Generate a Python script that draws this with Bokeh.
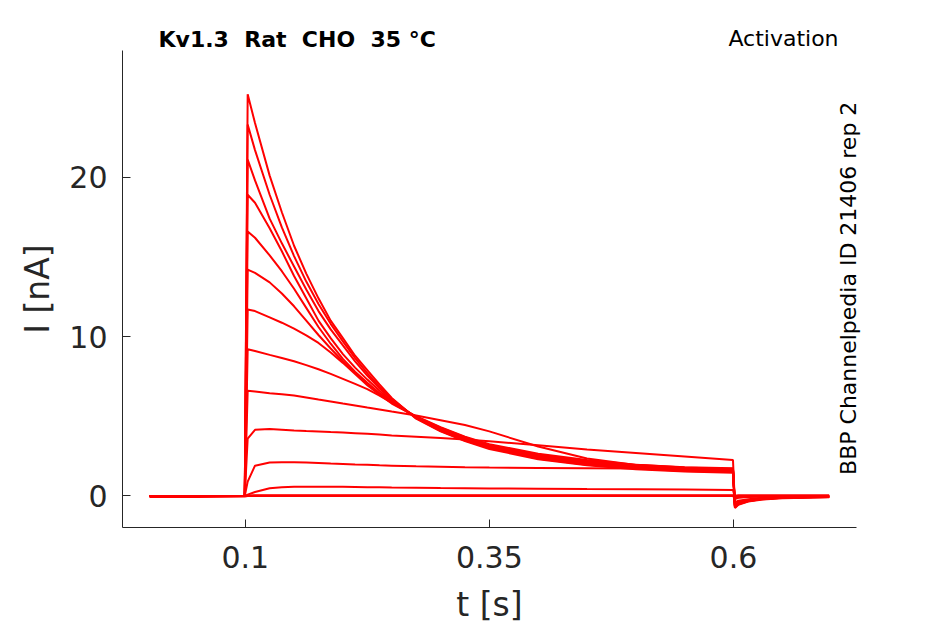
from math import pi
from bokeh.plotting import figure
from bokeh.models import Range1d, FixedTicker, Label
from bokeh.embed import file_html
from bokeh.resources import INLINE

# ---- data ----
t = [0.002, 0.05, 0.0995, 0.1025, 0.11, 0.125, 0.1375, 0.15, 0.1625, 0.175,
     0.1875, 0.2, 0.2125, 0.225, 0.2375, 0.25, 0.275, 0.3, 0.325, 0.35, 0.4,
     0.45, 0.5, 0.55, 0.5995, 0.6015, 0.605, 0.615, 0.63, 0.65, 0.698]

trace_01 = [0, 0, 0, 25.2, 23.4, 20.1, 17.8, 15.7, 13.95, 12.4, 11.0, 9.9, 8.8, 7.9, 7.0, 6.15, 4.85, 4.05, 3.45, 2.95, 2.3, 1.92, 1.68, 1.53, 1.45, -0.75, -0.55, -0.35, -0.22, -0.14, -0.08]
trace_02 = [0, 0, 0, 23.3, 21.7, 18.9, 16.85, 15.05, 13.45, 12.05, 10.8, 9.7, 8.65, 7.7, 6.85, 6.1, 4.88, 4.08, 3.48, 3.0, 2.35, 1.96, 1.72, 1.57, 1.5, -0.72, -0.52, -0.33, -0.2, -0.12, -0.07]
trace_03 = [0, 0, 0, 21.1, 19.8, 17.4, 15.85, 14.4, 12.95, 11.6, 10.45, 9.45, 8.45, 7.55, 6.75, 6.05, 4.9, 4.12, 3.52, 3.04, 2.4, 2.0, 1.76, 1.61, 1.54, -0.7, -0.5, -0.32, -0.19, -0.11, -0.06]
trace_04 = [0, 0, 0, 18.9, 18.4, 16.8, 15.35, 13.8, 12.4, 11.0, 9.9, 8.9, 8.05, 7.3, 6.6, 5.95, 4.92, 4.16, 3.56, 3.08, 2.45, 2.05, 1.8, 1.65, 1.58, -0.68, -0.48, -0.3, -0.18, -0.1, -0.05]
trace_05 = [0, 0, 0, 16.6, 16.2, 15.1, 14.1, 13.0, 11.8, 10.6, 9.55, 8.6, 7.8, 7.1, 6.45, 5.9, 4.95, 4.2, 3.6, 3.12, 2.5, 2.1, 1.84, 1.69, 1.62, -0.65, -0.46, -0.29, -0.17, -0.1, -0.05]
trace_06 = [0, 0, 0, 14.2, 14.0, 13.4, 12.7, 11.9, 11.0, 10.1, 9.25, 8.45, 7.72, 7.05, 6.42, 5.85, 4.97, 4.24, 3.64, 3.16, 2.55, 2.15, 1.88, 1.72, 1.65, -0.62, -0.44, -0.28, -0.16, -0.09, -0.04]
trace_07 = [0, 0, 0, 11.7, 11.6, 11.2, 10.87, 10.5, 10.08, 9.6, 9.0, 8.35, 7.65, 6.95, 6.35, 5.8, 4.98, 4.28, 3.68, 3.2, 2.6, 2.2, 1.92, 1.76, 1.7, -0.6, -0.42, -0.27, -0.15, -0.09, -0.04]
trace_08 = [0, 0, 0, 9.2, 9.1, 8.85, 8.66, 8.45, 8.21, 7.95, 7.66, 7.35, 7.03, 6.7, 6.3, 5.85, 5.0, 4.32, 3.72, 3.25, 2.65, 2.25, 1.96, 1.8, 1.74, -0.58, -0.4, -0.26, -0.15, -0.08, -0.04]
trace_09 = [0, 0, 0, 6.6, 6.55, 6.45, 6.38, 6.3, 6.18, 6.05, 5.93, 5.8, 5.68, 5.55, 5.43, 5.3, 5.05, 4.75, 4.45, 4.05, 3.1, 2.35, 1.95, 1.78, 1.68, -0.55, -0.38, -0.25, -0.14, -0.08, -0.04]
trace_10 = [0, 0, 0, 3.6, 4.15, 4.2, 4.15, 4.1, 4.07, 4.05, 4.01, 3.98, 3.94, 3.9, 3.85, 3.8, 3.72, 3.63, 3.54, 3.43, 3.18, 2.92, 2.7, 2.48, 2.26, -0.6, -0.45, -0.3, -0.18, -0.1, -0.05]
trace_11 = [0, 0, 0, 0.9, 1.9, 2.1, 2.12, 2.12, 2.1, 2.07, 2.03, 2.0, 1.97, 1.95, 1.92, 1.9, 1.86, 1.83, 1.8, 1.78, 1.76, 1.74, 1.72, 1.7, 1.68, -0.4, -0.3, -0.2, -0.12, -0.07, -0.03]
trace_12 = [0, 0, 0, 0.08, 0.25, 0.48, 0.54, 0.57, 0.58, 0.58, 0.58, 0.57, 0.56, 0.55, 0.54, 0.53, 0.52, 0.5, 0.49, 0.47, 0.45, 0.43, 0.42, 0.4, 0.38, -0.1, -0.08, -0.05, -0.03, -0.02, 0.0]
trace_13 = [-0.03, -0.03, 0, 0.03, 0.05, 0.05, 0.05, 0.05, 0.05, 0.05, 0.05, 0.05, 0.05, 0.05, 0.05, 0.05, 0.05, 0.05, 0.05, 0.05, 0.05, 0.05, 0.05, 0.05, 0.05, 0.02, 0.04, 0.05, 0.05, 0.05, 0.05]
trace_14 = [0, 0, 0, 0, 0, 0, 0, 0, 0, 0, 0, 0, 0, 0, 0, 0, 0, 0, 0, 0, 0, 0, 0, 0, 0, -0.05, -0.03, -0.02, -0.01, 0, 0]
trace_15 = [-0.06, -0.06, -0.03, 0, 0.01, 0.01, 0.01, 0.01, 0.01, 0.01, 0.01, 0.01, 0.01, 0.01, 0.01, 0.01, 0.01, 0.01, 0.01, 0.01, 0.01, 0.01, 0.01, 0.01, 0.01, -0.2, -0.12, -0.06, -0.03, -0.02, -0.01]

traces = [trace_01, trace_02, trace_03, trace_04, trace_05, trace_06, trace_07,
          trace_08, trace_09, trace_10, trace_11, trace_12, trace_13, trace_14, trace_15]

x_ticks = [0.1, 0.35, 0.6]
x_tick_labels = ["0.1", "0.35", "0.6"]
y_ticks = [0, 10, 20]
y_tick_labels = ["0", "10", "20"]

title_left = "Kv1.3 \u00a0Rat \u00a0CHO \u00a035 \u00b0C"
title_right = "Activation"
side_text = "BBP Channelpedia ID 21406 rep 2"

# ---- figure ----
FONT = "DejaVu Sans"
AX = "#262626"

p = figure(frame_width=734, frame_height=477,
           x_range=Range1d(-0.0257, 0.726), y_range=Range1d(-1.98, 27.95),
           output_backend="svg", toolbar_location=None,
           min_border_left=122, min_border_right=81,
           min_border_top=47, min_border_bottom=89)
p.outline_line_color = None
p.grid.visible = False
p.background_fill_color = "white"
p.border_fill_color = "white"

for tr in traces:
    p.line(t, tr, line_color="#ff0000", line_width=2)

p.xaxis.ticker = FixedTicker(ticks=x_ticks)
p.xaxis.major_label_overrides = dict(zip(x_ticks, x_tick_labels))
p.yaxis.ticker = FixedTicker(ticks=y_ticks)
p.yaxis.major_label_overrides = dict(zip(y_ticks, y_tick_labels))

for ax in (p.xaxis[0], p.yaxis[0]):
    ax.axis_line_color = AX
    ax.axis_line_width = 1
    ax.major_tick_line_color = AX
    ax.major_tick_in = 8
    ax.major_tick_out = 0
    ax.minor_tick_line_color = None
    ax.major_label_text_font = FONT
    ax.major_label_text_font_size = "30px"
    ax.major_label_text_color = AX
    ax.axis_label_text_font = FONT
    ax.axis_label_text_font_size = "33px"
    ax.axis_label_text_font_style = "normal"
    ax.axis_label_text_color = AX

p.xaxis.axis_label = "t [s]"
p.yaxis.axis_label = "I [nA]"
p.xaxis.major_label_standoff = 18
p.yaxis.major_label_standoff = 15
p.xaxis.axis_label_standoff = 14
p.yaxis.axis_label_standoff = 9

p.add_layout(Label(x=0.0112, y=28.66, text=title_left, text_font=FONT,
                   text_font_size="22px", text_font_style="bold",
                   text_color="black", text_align="left",
                   text_baseline="alphabetic"), "above")
p.add_layout(Label(x=0.7076, y=28.70, text=title_right, text_font=FONT,
                   text_font_size="22px", text_color="black",
                   text_align="right", text_baseline="alphabetic"), "above")
p.add_layout(Label(x=0.7176, y=13.03, text=side_text, text_font=FONT,
                   text_font_size="22px", text_color="black", angle=pi / 2,
                   text_align="center", text_baseline="alphabetic"), "right")

open("out.html", "w").write(file_html(p, INLINE))
